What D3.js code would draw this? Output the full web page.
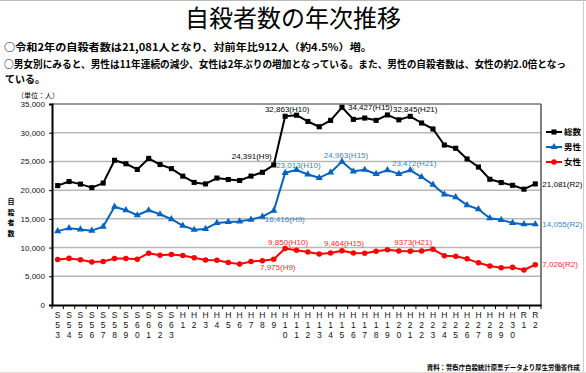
<!DOCTYPE html>
<html lang="ja">
<head>
<meta charset="UTF-8">
<title>自殺者数の年次推移</title>
<script src="https://d3js.org/d3.v7.min.js"></script>
<style>
  body { margin: 0; background: #fff; }
  svg { display: block; font-family: "Liberation Sans", Arial, sans-serif; }
  .jp { font-family: "Noto Sans CJK JP", sans-serif; }
</style>
</head>
<body>
<script>
// year labels (Showa 53 .. Reiwa 2)
var years = ["S53","S54","S55","S56","S57","S58","S59","S60","S61","S62","S63",
  "H1","H2","H3","H4","H5","H6","H7","H8","H9","H10","H11","H12","H13","H14","H15",
  "H16","H17","H18","H19","H20","H21","H22","H23","H24","H25","H26","H27","H28","H29","H30",
  "R1","R2"];

var total = [20788,21503,21048,20434,21228,25202,24596,23599,25524,24460,23742,
  22436,21346,21084,22104,21851,21679,22445,23104,24391,32863,33048,31957,31042,32143,34427,
  32325,32552,32155,33093,32249,32845,31690,30651,27858,27283,25427,24025,21897,21321,20840,
  20169,21081];

var male = [12859,13386,13155,12942,13654,17116,16508,15624,16497,15802,14934,
  13818,13102,13242,14296,14468,14560,14874,15393,16416,23013,23512,22727,22144,23080,24963,
  23272,23540,22813,23478,22831,23472,22283,20955,19273,18787,17386,16681,15121,14826,14290,
  14078,14055];

var female = [7929,8117,7893,7492,7574,8086,8088,7975,9027,8658,8808,
  8618,8244,7842,7808,7383,7119,7571,7711,7975,9850,9536,9230,8898,9063,9464,
  9053,9012,9342,9615,9418,9373,9407,9696,8585,8496,8041,7344,6776,6495,6550,
  6091,7026];

var yTicks = [0,5000,10000,15000,20000,25000,30000,35000];

var W = 586, H = 373;
var plot = {left: 52, right: 541, top: 104, bottom: 305};

var svg = d3.select("body").append("svg")
    .attr("width", W).attr("height", H);

svg.append("rect").attr("width", W).attr("height", H).attr("fill", "#fff");
// slide edges
svg.append("line").attr("x1", 0).attr("x2", W).attr("y1", 0.5).attr("y2", 0.5)
    .attr("stroke", "#bbb").attr("stroke-width", 1);
svg.append("line").attr("x1", 583.5).attr("x2", 583.5).attr("y1", 0).attr("y2", H)
    .attr("stroke", "#ccc").attr("stroke-width", 1);
svg.append("line").attr("x1", 0).attr("x2", W).attr("y1", 372.5).attr("y2", 372.5)
    .attr("stroke", "#eadbd5").attr("stroke-width", 1);

// title and notes
svg.append("text").attr("class", "jp")
    .attr("x", 293).attr("y", 27).attr("text-anchor", "middle")
    .attr("font-size", 24).text("自殺者数の年次推移");

var notes = [
  {t: "○令和2年の自殺者数は21,081人となり、対前年比912人（約4.5%）増。", y: 51, w: 368},
  {t: "○男女別にみると、男性は11年連続の減少、女性は2年ぶりの増加となっている。また、男性の自殺者数は、女性の約2.0倍となっ", y: 68, w: 562},
  {t: "ている。", y: 83, w: 40}
];
svg.selectAll("text.note").data(notes).enter().append("text")
    .attr("class", "note jp")
    .attr("x", function(d, i) { return i === 2 ? 5 : 4; })
    .attr("y", function(d) { return d.y; })
    .attr("font-size", 9.8).attr("font-weight", "bold")
    .attr("textLength", function(d) { return d.w; })
    .attr("lengthAdjust", "spacingAndGlyphs")
    .text(function(d) { return d.t; });

// scales
var x = d3.scaleBand().domain(years).range([plot.left, plot.right]).padding(0);
var cx = function(i) { return x(years[i]) + x.bandwidth() / 2; };
var y = d3.scaleLinear().domain([0, 35000]).range([plot.bottom, plot.top]);

// gridlines
svg.append("g").selectAll("line").data(yTicks.slice(1, -1)).enter().append("line")
    .attr("x1", plot.left).attr("x2", plot.right)
    .attr("y1", function(d) { return y(d); }).attr("y2", function(d) { return y(d); })
    .attr("stroke", "#b8b8b8").attr("stroke-width", 1.5);

// frame (top / right)
svg.append("line").attr("x1", plot.left).attr("x2", plot.right)
    .attr("y1", plot.top).attr("y2", plot.top).attr("stroke", "#777").attr("stroke-width", 1.5);
svg.append("line").attr("x1", plot.right).attr("x2", plot.right)
    .attr("y1", plot.top).attr("y2", plot.bottom).attr("stroke", "#555").attr("stroke-width", 1.5);

// y axis
var yAxis = svg.append("g")
    .attr("transform", "translate(" + plot.left + ",0)")
    .call(d3.axisLeft(y).tickValues(yTicks).tickSize(3).tickFormat(d3.format(",")));
yAxis.select(".domain").attr("stroke", "#000").attr("stroke-width", 2);
yAxis.selectAll(".tick line").attr("stroke", "#000");
yAxis.selectAll(".tick text").attr("x", -7).attr("font-size", 8)
    .attr("font-family", "Liberation Sans, Arial, sans-serif").attr("fill", "#111");

// x axis
var xAxis = svg.append("g")
    .attr("transform", "translate(0," + plot.bottom + ")")
    .call(d3.axisBottom(x).tickSize(0).tickFormat(""));
xAxis.select(".domain").attr("stroke", "#000").attr("stroke-width", 2);
// tick marks at band edges
svg.append("g").selectAll("line").data(years.concat(["end"])).enter().append("line")
    .attr("x1", function(d, i) { return plot.left + i * x.bandwidth(); })
    .attr("x2", function(d, i) { return plot.left + i * x.bandwidth(); })
    .attr("y1", plot.bottom).attr("y2", plot.bottom + 4)
    .attr("stroke", "#000").attr("stroke-width", 1);
// vertical-stacked labels
var xl = svg.append("g").selectAll("text").data(years).enter().append("text")
    .attr("text-anchor", "middle").attr("font-size", 8.5).attr("fill", "#111")
    .attr("x", function(d) { return x(d) + x.bandwidth() / 2; });
xl.each(function(d) {
  var t = d3.select(this);
  d.split("").forEach(function(ch, k) {
    t.append("tspan").attr("x", x(d) + x.bandwidth() / 2).attr("y", 318 + k * 10).text(ch);
  });
});

// axis captions
svg.append("text").attr("class", "jp").attr("x", 17).attr("y", 98)
    .attr("font-size", 7).text("（単位：人）");
var ytitle = svg.append("g").attr("class", "jp");
"自殺者数".split("").forEach(function(ch, k) {
  ytitle.append("text").attr("x", 11).attr("y", 204 + k * 10.5)
      .attr("font-size", 7).attr("font-weight", "bold").attr("text-anchor", "middle")
      .text(ch);
});

// series
var series = [
  {name: "総数", values: total, color: "#000", label: "#000", shape: d3.symbolSquare, size: 26},
  {name: "男性", values: male, color: "#0563c1", label: "#2f86d6", shape: d3.symbolTriangle, size: 22},
  {name: "女性", values: female, color: "#ff0000", label: "#ff2a2a", shape: d3.symbolCircle, size: 24}
];

var line = d3.line().x(function(d, i) { return cx(i); }).y(function(d) { return y(d); });

series.forEach(function(s) {
  svg.append("path").datum(s.values)
      .attr("d", line).attr("fill", "none")
      .attr("stroke", s.color).attr("stroke-width", 2).attr("stroke-linejoin", "round");
  svg.append("g").selectAll("path").data(s.values).enter().append("path")
      .attr("d", d3.symbol().type(s.shape).size(s.size))
      .attr("transform", function(d, i) { return "translate(" + cx(i) + "," + y(d) + ")"; })
      .attr("fill", s.color);
});

// annotations: series index, year, text, offset from point
var notesOnChart = [
  {s: 0, yr: "H9",  t: "24,391(H9)",  dx: -2, dy: -9,  a: "end"},
  {s: 0, yr: "H10", t: "32,863(H10)", dx: 2,  dy: -7,  a: "middle"},
  {s: 0, yr: "H15", t: "34,427(H15)", dx: 6,  dy: 0,   a: "start"},
  {s: 0, yr: "H21", t: "32,845(H21)", dx: 5,  dy: -7,  a: "middle"},
  {s: 0, yr: "R2",  t: "21,081(R2)",  dx: 7,  dy: 0,   a: "start"},
  {s: 1, yr: "H9",  t: "16,416(H9)",  dx: -9, dy: 8,   a: "start"},
  {s: 1, yr: "H10", t: "23,013(H10)", dx: -9, dy: -8,  a: "start"},
  {s: 1, yr: "H15", t: "24,963(H15)", dx: 4,  dy: -6,  a: "middle"},
  {s: 1, yr: "H21", t: "23,472(H21)", dx: 4,  dy: -7,  a: "middle"},
  {s: 1, yr: "R2",  t: "14,055(R2)",  dx: 7,  dy: 0,   a: "start"},
  {s: 2, yr: "H9",  t: "7,975(H9)",   dx: 4,  dy: 7.5, a: "middle"},
  {s: 2, yr: "H10", t: "9,850(H10)",  dx: 3,  dy: -6.5, a: "middle"},
  {s: 2, yr: "H15", t: "9,464(H15)",  dx: 2,  dy: -7,  a: "middle"},
  {s: 2, yr: "H21", t: "9373(H21)",   dx: 3,  dy: -8.5, a: "middle"},
  {s: 2, yr: "R2",  t: "7,026(R2)",   dx: 7,  dy: 0,   a: "start"}
];
svg.append("g").selectAll("text").data(notesOnChart).enter().append("text")
    .attr("x", function(d) { return cx(years.indexOf(d.yr)) + d.dx; })
    .attr("y", function(d) { return y(series[d.s].values[years.indexOf(d.yr)]) + d.dy; })
    .attr("dy", "0.35em").attr("text-anchor", function(d) { return d.a; })
    .attr("font-size", 8).attr("fill", function(d) { return series[d.s].label; })
    .text(function(d) { return d.t; });

// small leader ticks at H21
[1, 2].forEach(function(si) {
  var i = years.indexOf("H21"), px = cx(i), py = y(series[si].values[i]);
  svg.append("line").attr("x1", px + 2).attr("y1", py - 3).attr("x2", px + 4).attr("y2", py)
      .attr("stroke", "#555").attr("stroke-width", 0.7);
});

// legend
var lg = svg.append("g").selectAll("g").data(series).enter().append("g")
    .attr("transform", function(d, i) { return "translate(546," + (132 + i * 15) + ")"; });
lg.append("line").attr("x1", 0).attr("x2", 16).attr("stroke", function(d) { return d.color; })
    .attr("stroke-width", 2);
lg.append("path").attr("transform", "translate(8,0)")
    .attr("d", function(d) { return d3.symbol().type(d.shape).size(d.size)(); })
    .attr("fill", function(d) { return d.color; });
lg.append("text").attr("class", "jp").attr("x", 18).attr("dy", "0.35em")
    .attr("font-size", 8.5).attr("font-weight", "bold").text(function(d) { return d.name; });

// source
svg.append("text").attr("class", "jp").attr("x", 580).attr("y", 369.5)
    .attr("text-anchor", "end").attr("font-size", 6.4).attr("font-weight", "bold")
    .text("資料：警察庁自殺統計原票データより厚生労働省作成");
</script>
</body>
</html>
